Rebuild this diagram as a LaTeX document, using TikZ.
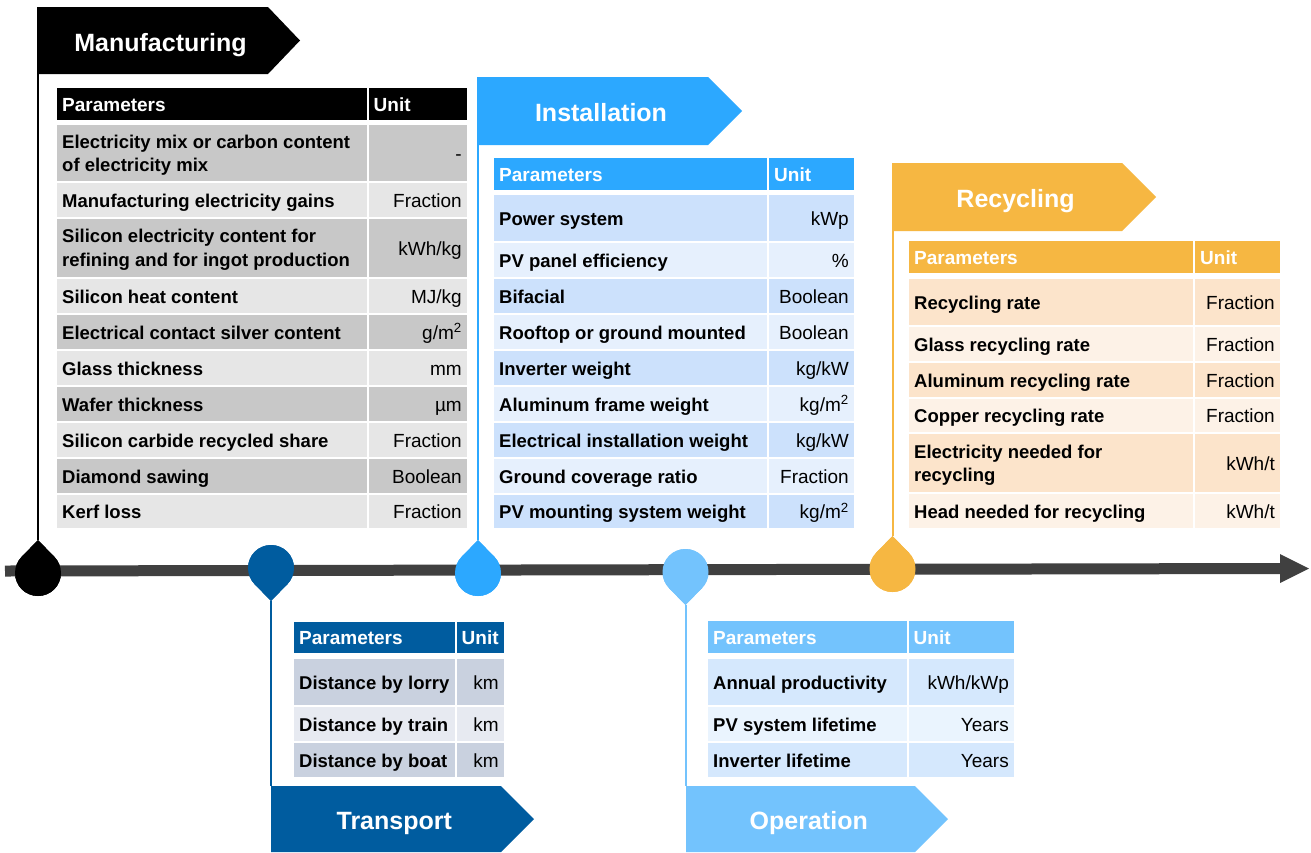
\documentclass[tikz,border=0pt]{standalone}
\usepackage{fontspec}
\setmainfont{Liberation Sans}
\definecolor{mfg}{HTML}{000000}
\definecolor{mfgD}{HTML}{C8C8C8}
\definecolor{mfgL}{HTML}{E6E6E6}
\definecolor{trn}{HTML}{005C9F}
\definecolor{trnD}{HTML}{C9D1DF}
\definecolor{trnL}{HTML}{E7EAF1}
\definecolor{ins}{HTML}{2CA8FF}
\definecolor{insD}{HTML}{CCE1FC}
\definecolor{insL}{HTML}{E6F0FD}
\definecolor{ope}{HTML}{73C3FD}
\definecolor{opeD}{HTML}{D5E8FD}
\definecolor{opeL}{HTML}{EAF4FE}
\definecolor{rec}{HTML}{F6B742}
\definecolor{recD}{HTML}{FCE4CB}
\definecolor{recL}{HTML}{FDF2E7}
\definecolor{axis}{HTML}{404040}
\tikzset{
  ptext/.style={font=\bfseries\fontsize{18.5}{23.5}\selectfont, inner sep=0pt, anchor=west, text height=14pt, text depth=0pt},
  ptwo/.style={font=\bfseries\fontsize{18.5}{23.5}\selectfont, inner sep=0pt, anchor=west, align=left},
  utext/.style={font=\fontsize{19}{23}\selectfont, inner sep=0pt, anchor=east, text height=14pt, text depth=0pt},
  htext/.style={font=\bfseries\fontsize{19}{23}\selectfont, text=white, inner sep=0pt, anchor=west, text height=14pt, text depth=0pt},
  ftext/.style={font=\bfseries\fontsize{25}{30}\selectfont, text=white, inner sep=0pt, anchor=base},
  vline/.style={line width=2pt},
}
% name xL xM xR yT yB fill param unit
\newcommand\trow[9]{%
  \fill[#7] (#2,#5) rectangle ({#3-1},#6);
  \fill[#7] ({#3+1},#5) rectangle (#4,#6);
  \node[ptext] (#1p) at ({#2+5},{(#5+#6)/2}) {#8};
  \node[utext] (#1u) at ({#4-5},{(#5+#6)/2}) {#9};
}
\newcommand\trowtwo[9]{%
  \fill[#7] (#2,#5) rectangle ({#3-1},#6);
  \fill[#7] ({#3+1},#5) rectangle (#4,#6);
  \node[ptwo] (#1p) at ({#2+5},{(#5+#6)/2+2}) {#8};
  \node[utext] (#1u) at ({#4-5},{(#5+#6)/2}) {#9};
}
% name xL xM xR yT yB color
\newcommand\thead[7]{%
  \fill[#7] (#2,#5) rectangle ({#3-1},#6);
  \fill[#7] ({#3+1},#5) rectangle (#4,#6);
  \node[htext] (#1hp) at ({#2+5},{(#5+#6)/2}) {Parameters};
  \node[htext] (#1hu) at ({#3+6},{(#5+#6)/2}) {Unit};
}
% name cx cy dir color
\newcommand\pin[5]{%
  \coordinate (#1) at (#2,#3);
  \coordinate (#1tip) at (#2,{#3+#4*33});
  \fill[#5] (#1) circle[radius=23pt];
  \fill[#5] (#1tip) -- ({#2+16.5},{#3+#4*16}) -- ({#2-16.5},{#3+#4*16}) -- cycle;
}
% name x0 xr xt yT yB color text
\newcommand\flag[8]{%
  \fill[#7] (#2,#5) -- (#3,#5) -- (#4,{(#5+#6)/2}) -- (#3,#6) -- (#2,#6) -- cycle;
  \coordinate (#1top) at (#2,#5);
  \coordinate (#1bot) at (#2,#6);
  \node[ftext] (#1) at ({(#2+(#3+#4)/2)/2},{(#5+#6)/2+10.5}) {#8};
}
\begin{document}
\begin{tikzpicture}[x=1pt,y=-1pt]
\useasboundingbox (0,0) rectangle (1311,852);
\fill[white] (0,0) rectangle (1311,852);

% pins (coordinates first)
\pin{pm}{38}{573}{-1}{mfg}
\pin{pt}{271}{568}{1}{trn}
\pin{pi}{478}{573}{-1}{ins}
\pin{po}{685.5}{572}{1}{ope}
\pin{pr}{892.5}{569}{-1}{rec}

% flags
\flag{fm}{37}{268}{300}{7}{74}{mfg}{Manufacturing}
\flag{fi}{477}{708}{742}{77}{145}{ins}{Installation}
\flag{fr}{892}{1122}{1156}{163}{231}{rec}{Recycling}
\flag{ft}{271}{501}{534}{786}{852}{trn}{Transport}
\flag{fo}{686}{915}{948}{786}{852}{ope}{Operation}

% connectors from flags to pins
\draw[vline, mfg] (pmtip) -- (pmtip |- fmbot);
\draw[vline, ins] (pitip) -- (pitip |- fibot);
\draw[vline, rec] (prtip) -- (prtip |- frbot);
\draw[vline, trn] (pttip) -- (pttip |- fttop);
\draw[vline, ope] (potip) -- (potip |- fotop);

% Manufacturing table
\thead{m}{57}{367.5}{467}{88}{120}{mfg}
\trowtwo{m1}{57}{367.5}{467}{125}{181}{mfgD}{Electricity mix or carbon content\\of electricity mix}{-}
\trow{m2}{57}{367.5}{467}{183}{217}{mfgL}{Manufacturing electricity gains}{Fraction}
\trowtwo{m3}{57}{367.5}{467}{219}{277}{mfgD}{Silicon electricity content for\\refining and for ingot production}{kWh/kg}
\trow{m4}{57}{367.5}{467}{279}{313}{mfgL}{Silicon heat content}{MJ/kg}
\trow{m5}{57}{367.5}{467}{315}{349}{mfgD}{Electrical contact silver content}{g/m\textsuperscript{2}}
\trow{m6}{57}{367.5}{467}{351}{385}{mfgL}{Glass thickness}{mm}
\trow{m7}{57}{367.5}{467}{387}{421}{mfgD}{Wafer thickness}{µm}
\trow{m8}{57}{367.5}{467}{423}{457}{mfgL}{Silicon carbide recycled share}{Fraction}
\trow{m9}{57}{367.5}{467}{459}{493}{mfgD}{Diamond sawing}{Boolean}
\trow{m10}{57}{367.5}{467}{495}{528}{mfgL}{Kerf loss}{Fraction}

% Installation table
\thead{i}{494}{768}{854}{158}{190}{ins}
\trow{i1}{494}{768}{854}{195}{241}{insD}{Power system}{kWp}
\trow{i2}{494}{768}{854}{243}{277}{insL}{PV panel efficiency}{\%}
\trow{i3}{494}{768}{854}{279}{313}{insD}{Bifacial}{Boolean}
\trow{i4}{494}{768}{854}{315}{349}{insL}{Rooftop or ground mounted}{Boolean}
\trow{i5}{494}{768}{854}{351}{385}{insD}{Inverter weight}{kg/kW}
\trow{i6}{494}{768}{854}{387}{421}{insL}{Aluminum frame weight}{kg/m\textsuperscript{2}}
\trow{i7}{494}{768}{854}{423}{457}{insD}{Electrical installation weight}{kg/kW}
\trow{i8}{494}{768}{854}{459}{493}{insL}{Ground coverage ratio}{Fraction}
\trow{i9}{494}{768}{854}{495}{528}{insD}{PV mounting system weight}{kg/m\textsuperscript{2}}

% Recycling table
\thead{r}{909}{1194}{1280}{241}{273}{rec}
\trow{r1}{909}{1194}{1280}{279}{325}{recD}{Recycling rate}{Fraction}
\trow{r2}{909}{1194}{1280}{327}{361}{recL}{Glass recycling rate}{Fraction}
\trow{r3}{909}{1194}{1280}{363}{397}{recD}{Aluminum recycling rate}{Fraction}
\trow{r4}{909}{1194}{1280}{399}{432}{recL}{Copper recycling rate}{Fraction}
\trowtwo{r5}{909}{1194}{1280}{434}{492}{recD}{Electricity needed for\\recycling}{kWh/t}
\trow{r6}{909}{1194}{1280}{494}{528}{recL}{Head needed for recycling}{kWh/t}

% Transport table
\thead{t}{294}{455.5}{504}{622}{653}{trn}
\trow{t1}{294}{455.5}{504}{659}{705}{trnD}{Distance by lorry}{km}
\trow{t2}{294}{455.5}{504}{707}{741}{trnL}{Distance by train}{km}
\trow{t3}{294}{455.5}{504}{743}{777}{trnD}{Distance by boat}{km}

% Operation table
\thead{o}{708}{907.5}{1014}{621}{653}{ope}
\trow{o1}{708}{907.5}{1014}{659}{705}{opeD}{Annual productivity}{kWh/kWp}
\trow{o2}{708}{907.5}{1014}{707}{741}{opeL}{PV system lifetime}{Years}
\trow{o3}{708}{907.5}{1014}{743}{777}{opeD}{Inverter lifetime}{Years}

% timeline axis
\coordinate (axL) at (5,571);
\coordinate (axR) at (1281,568.5);
\coordinate (axT) at (1309,568.5);
\draw[axis, line width=11pt] (axL) -- (axR);
\fill[axis] (1280,554) -- (axT) -- (1280,583) -- cycle;

% redraw pins on top of axis
\pin{pm}{38}{573}{-1}{mfg}
\pin{pt}{271}{568}{1}{trn}
\pin{pi}{478}{573}{-1}{ins}
\pin{po}{685.5}{572}{1}{ope}
\pin{pr}{892.5}{569}{-1}{rec}
\end{tikzpicture}
\end{document}
